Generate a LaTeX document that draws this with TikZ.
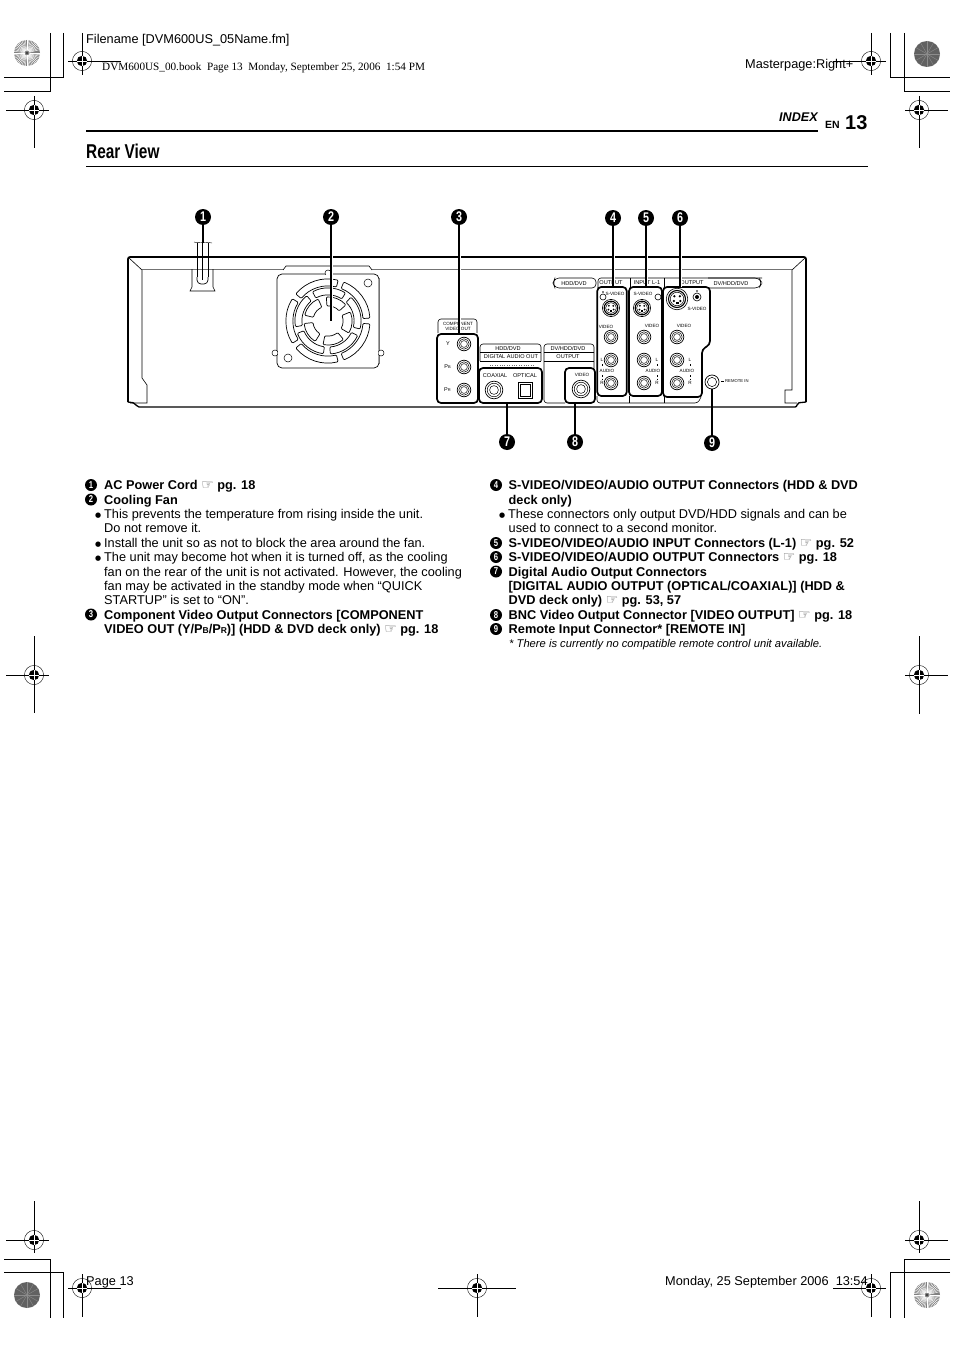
\documentclass[tikz,border=0pt]{standalone}
\usepackage{fontspec}
\setmainfont{Liberation Sans}
\newfontfamily\serifpart{Liberation Serif}
\newfontfamily\symfont{DejaVu Sans}
\newfontfamily\headfont[FakeStretch=0.77]{Liberation Sans}
\usetikzlibrary{positioning}
\newcommand{\seepg}{{\symfont\mdseries\fontsize{14}{14}\selectfont\color{black!65}☞}}
\newcommand{\lowcap}[1]{{\fontsize{8.5}{8.5}\selectfont #1}}
\newcommand{\dotitem}{\makebox[9pt][l]{\symfont\mdseries\fontsize{7}{7}\selectfont\raisebox{.6pt}{●}}}
\tikzset{
  bodyline/.style={anchor=base west,inner sep=0pt,font=\fontsize{12.75}{14}\selectfont},
  numsmall/.style={circle,fill=black,text=white,inner sep=0pt,minimum size=12pt,font=\headfont\fontsize{10}{10}\bfseries\selectfont},
  numbig/.style={circle,fill=black,text=white,inner sep=0pt,minimum size=16pt,font=\headfont\fontsize{14}{14}\bfseries\selectfont},
  leader/.style={line width=1.5pt,preaction={draw=white,line width=3pt}},
  jackbox/.style={draw,line width=1.7pt,rounded corners=4pt,inner sep=0pt},
  tiny/.style={inner sep=0pt,font=\fontsize{4.6}{4.8}\selectfont,align=center},
  tabtext/.style={inner sep=0pt,font=\fontsize{5.6}{5.6}\selectfont},
  panel/.style={line width=.6pt,rounded corners=3pt},
  greyline/.style={draw=black!55,line width=.8pt},
  rcajack/.pic={
    \draw[line width=.7pt] (0,0) circle[radius=6.8];
    \draw[line width=.5pt] (0,0) circle[radius=5.2];
    \draw[line width=.5pt] (0,0) circle[radius=3.4];
  },
  sjack/.pic={
    \draw[line width=.6pt] (0,0) circle[radius=8.6];
    \draw[line width=1.1pt] (0,0) circle[radius=6.8];
    \draw[line width=.5pt] (0,0) circle[radius=5.4];
    \fill (-2.2,-2.2) circle[radius=1] (2.2,-2.2) circle[radius=1]
      (-2.6,1.6) circle[radius=1] (2.6,1.6) circle[radius=1];
    \fill (-1.2,2.4) rectangle (1.2,4);
  },
  regmark/.pic={
    \draw[line width=.4pt] (0,0) circle[radius=9.6];
    \fill (0,0) circle[radius=5.2];
    \draw[white,line width=.9pt] (-5.2,0) -- (5.2,0) (0,-5.2) -- (0,5.2);
  },
  starlight/.pic={
    \fill[black!50] (0,0) circle[radius=13];
    \foreach \a in {0,7.5,...,352}
      \draw[white,line width=.45pt] (\a:2.5) -- (\a:13);
    \fill[black!80] (0,0) circle[radius=1.2];
  },
  stardark/.pic={
    \fill[black!62] (0,0) circle[radius=13];
    \foreach \a in {0,30,...,330}
      \draw[black!45,line width=.4pt] (0,0) -- (\a:13);
  }
}
\begin{document}
\begin{tikzpicture}[x=1pt,y=-1pt]
\useasboundingbox[fill=white] (0,0) rectangle (954,1351);

\draw[line width=.9pt] (50,33) -- (50,91) -- (4,91) (63,33) -- (63,77) -- (4,77);
\draw[line width=.9pt] (890,33) -- (890,77) -- (950,77) (904,33) -- (904,91) -- (950,91);
\draw[line width=.9pt] (4,1259) -- (50,1259) -- (50,1318) (4,1272) -- (63,1272) -- (63,1318);
\draw[line width=.9pt] (950,1259) -- (904,1259) -- (904,1318) (950,1272) -- (890,1272) -- (890,1318);
\foreach \cx/\cy/\hl/\hr/\vt/\vb in {
  82/61/68/121/33/75,
  871/61/833/886/33/75,
  34/110/6/49/96/148,
  919/110/905/948/96/148,
  34/675/6/49/636/713,
  919/675/905/948/636/714,
  34/1240/6/49/1201/1253,
  919/1240/905/948/1201/1253,
  82/1288/68/121/1274/1317,
  477/1288/438/516/1274/1317,
  871/1288/833/886/1274/1317
}{
  \draw[line width=.9pt] (\hl,\cy) -- (\hr,\cy) (\cx,\vt) -- (\cx,\vb);
  \pic at (\cx,\cy) {regmark};
}
\pic at (27,53) {starlight};
\pic at (927,54) {stardark};
\pic at (27,1295) {stardark};
\pic at (927,1295) {starlight};

\node[bodyline] (filename) at (86,44) {Filename [DVM600US\_05Name.fm]};
\node[bodyline,font=\serifpart\fontsize{11.2}{11.2}\selectfont] (bookline) at (102,71) {DVM600US\_00.book\ \ Page 13\ \ Monday, September 25, 2006\ \ 1:54 PM};
\node[bodyline] (masterpage) at (745,69) {Masterpage:Right+};
\node[bodyline] (pagefoot) at (86,1285) {Page 13};
\node[bodyline] (datefoot) at (665,1285) {Monday, 25 September 2006\ \ 13:54};

\node[bodyline,font=\fontsize{12.6}{12.6}\bfseries\itshape\selectfont] (indexhead) at (779,122) {INDEX};
\node[bodyline,font=\fontsize{10.5}{10.5}\bfseries\selectfont] (enhead) at (825,129) {EN};
\node[bodyline,font=\fontsize{20}{20}\bfseries\selectfont] (pagenum) at (845,130) {13};
\draw[line width=2pt] (86,131.5) -- (818,131.5);
\draw[line width=.9pt] (86,166) -- (868,166);
\node[bodyline,font=\headfont\fontsize{20}{20}\bfseries\selectfont] (rearview) at (86,159) {Rear View};

\draw[line width=1.7pt,rounded corners=2pt] (128,402) -- (128,257) -- (806,257) -- (806,402);
\draw[line width=1.3pt,rounded corners=2pt] (128,402) -- (135,403) -- (137,407) -- (797,407) -- (797,403) -- (806,402);
\draw[greyline] (142,269) -- (792,269);
\draw[line width=.6pt] (129,258) -- (142,270) -- (142,378) -- (147,385) -- (147,403) -- (130,403);
\draw[line width=.6pt] (805,258) -- (792,270) -- (792,390) -- (785,390) -- (785,403) -- (797,403);

\draw[line width=.6pt] (197,243) -- (197,277) (202.7,243) -- (202.7,280) (208,243) -- (208,277);
\draw[line width=.4pt] (194,242) .. controls (198,244) and (202,241) .. (212,243);
\draw[line width=.6pt] (192,269) -- (192,287) -- (190,291) -- (215,291) -- (213,287) -- (213,269);
\draw[line width=.7pt,rounded corners=4pt] (197,277) -- (197,284) -- (208,284) -- (208,277);

\coordinate (fancentre) at (328,321);
\fill[white] (283,267) rectangle (372,274);
\draw[line width=.6pt] (283,270) -- (286,266) -- (369,266) -- (372,270);
\draw[line width=.7pt,rounded corners=5pt,fill=white] (277,274) rectangle (379,368);
\draw[greyline] (379.5,278) -- (379.5,364);
\draw[line width=.5pt,fill=white] (275,353) circle[radius=3] (381,353) circle[radius=3] (328,273) circle[radius=3];
\fill[white] (278,349) rectangle (378,357) (322,275) rectangle (334,279);
\draw[line width=.5pt] (368,283) circle[radius=4] (288,358) circle[radius=4];
\begin{scope}[shift={(fancentre)}]
\foreach \rin/\rout/\twist/\gap in {35/42/0/4,26/33/20/6,15/24/40/10}
  \foreach \a in {0,72,...,288}
    \draw[line width=.7pt,rounded corners=1pt] ({\a+\twist+\gap}:\rin) arc[start angle=\a+\twist+\gap,end angle=\a+\twist+72-\gap,radius=\rin]
      -- ({\a+\twist+72-\gap}:\rout) arc[start angle=\a+\twist+72-\gap,end angle=\a+\twist+\gap,radius=\rout] -- cycle;
\end{scope}

\node[tiny] (complabel) at (458,326.5) {COMPONENT\\VIDEO OUT};
\draw[panel] (438,333) -- (438,319) -- (477,319) -- (477,333);
\node[tiny,font=\fontsize{5.5}{5.5}\selectfont] (ylabel) at (448,343.5) {Y};
\node[tiny,font=\fontsize{5.5}{5.5}\selectfont] (pblabel) at (447.5,367) {P\lowcap{\fontsize{4}{4}\selectfont B}};
\node[tiny,font=\fontsize{5.5}{5.5}\selectfont] (prlabel) at (447.5,390) {P\lowcap{\fontsize{4}{4}\selectfont R}};
\foreach \jy in {344,367,390}
  \pic at (464,\jy) {rcajack};

\draw[panel] (480,361) -- (480,344) -- (541,344) -- (541,361);
\draw[line width=.6pt] (480,352) -- (541,352) (480,361) -- (541,361);
\draw[greyline,line width=.4pt,dotted] (490,365) -- (535,365);
\node[tabtext] (hddlabel) at (508,348.5) {HDD/DVD};
\node[tabtext] (digilabel) at (511,356.5) {DIGITAL AUDIO OUT};
\node[tabtext] (coaxlabel) at (495,376) {COAXIAL};
\node[tabtext] (optlabel) at (525,376) {OPTICAL};
\pic[scale=1.3] at (494,390) {rcajack};
\draw[line width=.9pt] (518,382) rectangle (532,398);
\draw[line width=.4pt] (520,384) rectangle (530,396);

\draw[panel] (565,403) -- (544,403) -- (544,344) -- (594,344) -- (594,368);
\draw[line width=.6pt] (544,352) -- (594,352) (544,361) -- (594,361);
\node[tabtext] (dvlabel) at (568,348.5) {DV/HDD/DVD};
\node[tabtext] (outlabel) at (568,356.5) {OUTPUT};
\node[tiny] (bnclabel) at (582,375) {VIDEO};
\pic[scale=1.3] at (581,389) {rcajack};

\draw[panel,rounded corners=4pt] (596,278) -- (555,278) -- (553,283) -- (555,288) -- (596,288) -- cycle;
\draw[panel,rounded corners=4pt] (708,278) -- (759,278) -- (762,283) -- (759,288) -- (708,288);
\draw[panel] (598,288) -- (598,278) -- (762,278);
\draw[panel] (630,288) -- (630,278) (664,288) -- (664,278);
\node[tabtext] (hddtab) at (574,283) {HDD/DVD};
\node[tabtext] (outtab) at (611,283) {OUTPUT};
\node[tabtext] (inputtab) at (647,283) {INPUT L-1};
\node[tabtext] (outtabr) at (692,283) {OUTPUT};
\node[tabtext] (dvtab) at (731,283) {DV/HDD/DVD};
\draw[panel] (597,396) -- (597,403) -- (698,403) -- (701,397);
\draw[line width=.6pt] (629,396) -- (629,403) (664,397) -- (664,403);

\draw[line width=.6pt] (603,297) circle[radius=3];
\fill (603,292) circle[radius=.8];
\node[tiny] (sv4) at (615,294) {S-VIDEO};
\pic at (611,308) {sjack};
\node[tiny] (vid4) at (606,327) {VIDEO};
\foreach \jy in {337,360,383}
  \pic at (611,\jy) {rcajack};
\node[tiny] (l4) at (602,360) {L};
\node[tiny] (aud4) at (607,371) {AUDIO};
\node[tiny] (r4) at (602,383) {R};

\draw[line width=.6pt] (658,297) circle[radius=3];
\node[tiny] (sv5) at (643,294) {S-VIDEO};
\pic at (642,308) {sjack};
\node[tiny] (vid5) at (652,326) {VIDEO};
\foreach \jy in {337,360,383}
  \pic at (644,\jy) {rcajack};
\node[tiny] (l5) at (657,360) {L};
\node[tiny] (aud5) at (653,371) {AUDIO};
\node[tiny] (r5) at (657,383) {R};

\pic[scale=1.25] at (677,299) {sjack};
\draw[line width=.6pt] (697,297) circle[radius=4];
\fill (697,297) circle[radius=2];
\fill (697,291) circle[radius=.8];
\node[tiny] (sv6) at (697,309) {S-VIDEO};
\node[tiny] (vid6) at (684,326) {VIDEO};
\foreach \jy in {337,360,383}
  \pic at (677,\jy) {rcajack};
\node[tiny] (l6) at (690,360) {L};
\node[tiny] (aud6) at (687,371) {AUDIO};
\node[tiny] (r6) at (690,383) {R};
\draw[line width=.5pt,dash pattern=on 2pt off 1.5pt] (602,364) -- (602,367) (602,375) -- (602,380) (657,364) -- (657,367) (657,375) -- (657,380) (690,364) -- (690,367) (690,375) -- (690,380);

\coordinate (cordend) at (203,243);
\node[numbig] (bub1) at (203,217) {1};
\node[numbig] (bub2) at (331,217) {2};
\node[numbig] (bub3) at (459,217) {3};
\node[numbig] (bub4) at (613,218) {4};
\node[numbig] (bub5) at (646,218) {5};
\node[numbig] (bub6) at (680,218) {6};
\node[numbig] (bub7) at (507,442) {7};
\node[numbig] (bub8) at (575,442) {8};
\node[numbig] (bub9) at (712,443) {9};
\node[jackbox,minimum width=41pt,minimum height=69pt] (box3) at (457.5,368.5) {};
\node[jackbox,minimum width=63pt,minimum height=35pt] (box7) at (510.5,385.5) {};
\node[jackbox,minimum width=30pt,minimum height=35pt] (box8) at (580,385.5) {};
\node[jackbox,minimum width=29.5pt,minimum height=109pt] (box4) at (612,341.5) {};
\node[jackbox,minimum width=33pt,minimum height=109pt] (box5) at (645.5,341.5) {};
\draw[line width=1.7pt,rounded corners=4pt] (663,287) -- (710,287) -- (710,345) -- (702,349) -- (702,397) -- (663,397) -- cycle;
\coordinate (box6top) at (680,287);
\node[circle,draw,line width=.7pt,inner sep=0pt,minimum size=14pt] (remote) at (712,382) {};
\draw[line width=.5pt] (712,382) circle[radius=4.6];
\node[tiny,anchor=west,font=\fontsize{4.2}{4.2}\selectfont] (remotelabel) at (725,381) {REMOTE IN};
\draw[line width=.5pt] (721,381) -- (724,381);
\draw[line width=1.5pt] (bub1) -- (cordend);
\draw[leader] (bub2) -- (fancentre -| bub2);
\draw[leader] (bub3) -- (box3.north -| bub3);
\draw[leader] (bub4) -- (box4.north -| bub4);
\draw[leader] (bub5) -- (box5.north -| bub5);
\draw[leader] (bub6) -- (box6top);
\draw[line width=1.5pt] (bub7) -- (box7.south -| bub7);
\draw[line width=1.5pt] (bub8) -- (box8.south -| bub8);
\draw[line width=1.5pt] (bub9) -- (remote);

\foreach \n/\bx/\by in {1/91/485,2/91/499.5,3/91/614.5,4/496/485,5/496/543,6/496/557,7/496/571.5,8/496/615,9/496/629}
  \node[numsmall] (item\n) at (\bx,\by) {\n};
\foreach \tx/\ty/\t[count=\i] in {
  104/489.5/{\bfseries AC Power Cord \seepg\ pg. 18},
  104/504/{\bfseries Cooling Fan},
  95/518/{\dotitem This prevents the temperature from rising inside the unit.},
  104/532.5/{Do not remove it.},
  95/547/{\dotitem Install the unit so as not to block the area around the fan.},
  95/561.5/{\dotitem The unit may become hot when it is turned off, as the cooling},
  104/576/{fan on the rear of the unit is not activated. However, the cooling},
  104/590/{fan may be activated in the standby mode when “QUICK},
  104/604.5/{STARTUP” is set to “ON”.},
  104/619/{\bfseries Component Video Output Connectors [COMPONENT},
  104/633.5/{\bfseries VIDEO OUT (Y/P\lowcap{B}/P\lowcap{R})] (HDD \& DVD deck only) \seepg\ pg. 18},
  508.5/489.5/{\bfseries S-VIDEO/VIDEO/AUDIO OUTPUT Connectors (HDD \& DVD},
  508.5/504/{\bfseries deck only)},
  499/518/{\dotitem These connectors only output DVD/HDD signals and can be},
  508.5/532.5/{used to connect to a second monitor.},
  508.5/547/{\bfseries S-VIDEO/VIDEO/AUDIO INPUT Connectors (L-1) \seepg\ pg. 52},
  508.5/561.5/{\bfseries S-VIDEO/VIDEO/AUDIO OUTPUT Connectors \seepg\ pg. 18},
  508.5/576/{\bfseries Digital Audio Output Connectors},
  508.5/590/{\bfseries [DIGITAL AUDIO OUTPUT (OPTICAL/COAXIAL)] (HDD \&},
  508.5/604.5/{\bfseries DVD deck only) \seepg\ pg. 53, 57},
  508.5/619/{\bfseries BNC Video Output Connector [VIDEO OUTPUT] \seepg\ pg. 18},
  508.5/633.5/{\bfseries Remote Input Connector* [REMOTE IN]}
}
  \node[bodyline] (line\i) at (\tx,\ty) {\t};
\node[bodyline,font=\fontsize{11.2}{11.2}\itshape\selectfont] (footnote) at (509,647) {* There is currently no compatible remote control unit available.};
\end{tikzpicture}
\end{document}
